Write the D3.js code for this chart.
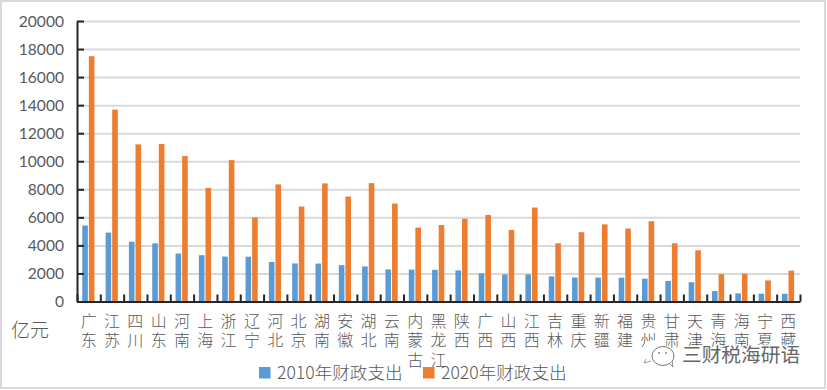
<!DOCTYPE html>
<html>
<head>
<meta charset="utf-8">
<script src="https://cdn.jsdelivr.net/npm/d3@7"></script>
<style>
    html, body { margin: 0; padding: 0; background: #fff; }
    svg { display: block; }
    .cjk { font-family: "Noto Sans CJK SC", sans-serif; font-weight: 300; fill: #595959; }
    .y-axis text { font-family: Lato, sans-serif; font-size: 15.6px; fill: #595959; }
    .y-axis .domain, .x-axis .domain { stroke: #262626; stroke-width: 2; }
    .y-axis .tick line, .x-axis .tick line { stroke: #262626; stroke-width: 2; }
    .grid .domain { stroke: none; }
    .grid .tick line { stroke: #d9d9d9; stroke-width: 2; }
</style>
</head>
<body>
<svg id="viz" width="827" height="390"></svg>
<script>
const provinces = ["广东","江苏","四川","山东","河南","上海","浙江","辽宁","河北","北京","湖南","安徽","湖北","云南","内蒙古","黑龙江","陕西","广西","山西","江西","吉林","重庆","新疆","福建","贵州","甘肃","天津","青海","海南","宁夏","西藏"];
const spend2010 = [5420,4915,4260,4145,3420,3300,3205,3195,2820,2715,2705,2590,2500,2285,2275,2255,2220,2010,1930,1925,1790,1710,1700,1695,1630,1470,1375,745,580,555,550];
const spend2020 = [17490,13680,11200,11230,10370,8100,10080,6000,8350,6770,8420,7480,8440,6980,5270,5450,5900,6170,5100,6700,4150,4940,5500,5200,5720,4150,3650,1950,1980,1500,2200];
const yTicks = [0,2000,4000,6000,8000,10000,12000,14000,16000,18000,20000];
const seriesNames = ["2010年财政支出","2020年财政支出"];
const seriesColors = ["#5b9bd5","#ed7d31"];

const svg = d3.select("#viz");
const margin = { top: 21, right: 27, bottom: 88.5, left: 77 };
const width = 827 - margin.left - margin.right;
const height = 390 - margin.top - margin.bottom;

// picture frame
svg.append("rect")
    .attr("x", 1).attr("y", 1).attr("width", 824).attr("height", 387)
    .attr("fill", "#fff").attr("stroke", "#d9d9d9").attr("stroke-width", 2);

const group = svg.append("g").attr("transform", `translate(${margin.left},${margin.top})`);

const x = d3.scaleBand().domain(provinces).range([0, width]);
const y = d3.scaleLinear().domain([0, 20000]).range([height, 0]);

group.append("g").attr("class", "grid")
    .call(d3.axisLeft(y).tickValues(yTicks.slice(1)).tickSize(-width).tickFormat(""));

const barW = 5.6, barGap = 1;
const series = [spend2010, spend2020];
series.forEach((values, s) => {
    group.append("g").selectAll("rect")
        .data(values)
        .enter()
        .append("rect")
        .attr("x", (d, i) => x(provinces[i]) + x.bandwidth() / 2 + (s === 0 ? -barW - barGap / 2 : barGap / 2) - 0.3)
        .attr("y", d => y(d))
        .attr("width", barW)
        .attr("height", d => y(0) - y(d))
        .attr("fill", seriesColors[s]);
});

// y axis: ticks point inward
const yAxis = group.append("g").attr("class", "y-axis")
    .call(d3.axisLeft(y).tickValues(yTicks).tickFormat(d => d).tickSizeOuter(0));
yAxis.selectAll(".tick line").attr("x1", 0).attr("x2", 7);
yAxis.selectAll(".tick text").attr("x", -13).attr("dy", "0.34em");

// x axis: ticks on the band edges, pointing up
const edge = d3.scalePoint().domain(d3.range(provinces.length + 1)).range([0, width]);
const xAxis = group.append("g").attr("class", "x-axis")
    .attr("transform", `translate(0,${height})`)
    .call(d3.axisBottom(edge).tickFormat("").tickSizeOuter(0));
xAxis.selectAll(".tick line").attr("y1", 0).attr("y2", -7);

// category names, one character per line
const labels = group.append("g").selectAll("text")
    .data(provinces)
    .enter()
    .append("text")
    .attr("class", "cjk")
    .attr("font-size", 16)
    .attr("text-anchor", "middle")
    .attr("transform", d => `translate(${x(d) + x.bandwidth() / 2},${height + 25.5})`);
labels.selectAll("tspan")
    .data(d => Array.from(d))
    .enter()
    .append("tspan")
    .attr("x", 0)
    .attr("y", (d, i) => i * 19.4)
    .text(d => d);

svg.append("text").attr("class", "cjk")
    .attr("x", 11).attr("y", 337)
    .attr("font-size", 19)
    .text("亿元");

// legend
const legendX = [259, 423];
const legend = svg.append("g").selectAll("g")
    .data(seriesNames)
    .enter()
    .append("g")
    .attr("transform", (d, i) => `translate(${legendX[i]},367)`);
legend.append("rect")
    .attr("width", 11.5).attr("height", 11.5)
    .attr("fill", (d, i) => seriesColors[i]);
legend.append("text")
    .attr("class", "cjk")
    .attr("x", 18).attr("y", 11.5)
    .attr("font-size", 17.6)
    .text(d => d);

// watermark
const mark = svg.append("g");
mark.append("ellipse")
    .attr("cx", 655).attr("cy", 351).attr("rx", 12).attr("ry", 10)
    .attr("fill", "#fff").attr("stroke", "#fff").attr("stroke-width", 2);
mark.append("ellipse")
    .attr("cx", 663).attr("cy", 356).attr("rx", 11).attr("ry", 9.5)
    .attr("fill", "#fff").attr("stroke", "#777").attr("stroke-width", 1);
mark.append("path")
    .attr("d", "M646,359 L644,363 L651,361")
    .attr("fill", "#fff").attr("stroke", "#999").attr("stroke-width", 1);
mark.append("path")
    .attr("d", "M670,364 L673,367 L672,361")
    .attr("fill", "#fff").attr("stroke", "#888").attr("stroke-width", 1);
mark.selectAll("circle")
    .data([659, 666])
    .enter()
    .append("circle")
    .attr("cx", d => d).attr("cy", 353).attr("r", 1).attr("fill", "#888");
mark.append("text")
    .attr("x", 682).attr("y", 362)
    .attr("font-family", '"Noto Sans CJK SC", sans-serif')
    .attr("font-size", 19.7)
    .attr("fill", "#666")
    .attr("stroke", "#fff")
    .attr("stroke-width", 2.5)
    .attr("paint-order", "stroke")
    .text("三财税海研语");
</script>
</body>
</html>
